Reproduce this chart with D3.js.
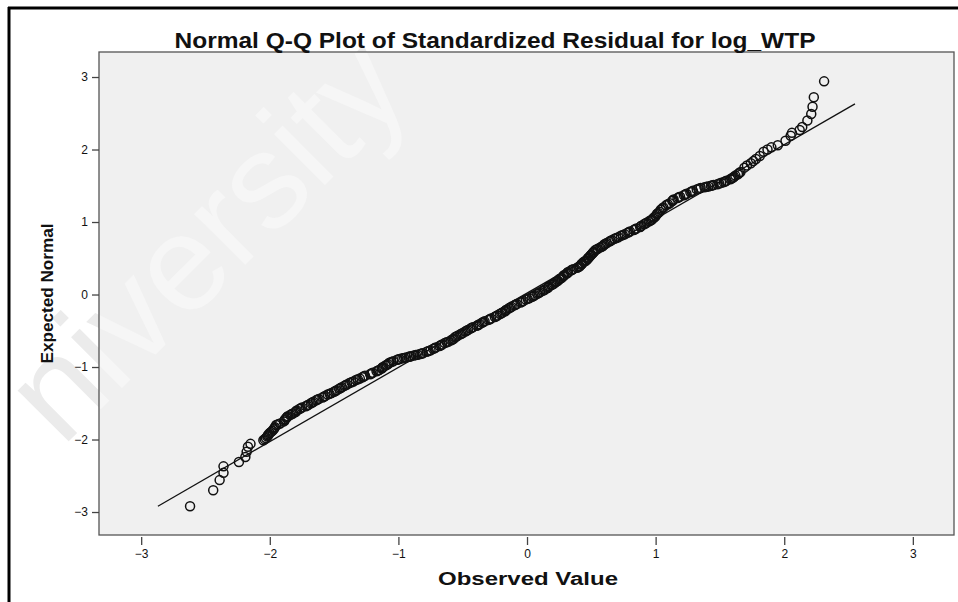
<!DOCTYPE html>
<html><head><meta charset="utf-8">
<script src="https://cdn.jsdelivr.net/npm/d3@7"></script>
<style>body{margin:0;background:#fff}svg{display:block}text{font-family:Arial,"Liberation Sans",sans-serif}</style>
</head><body>
<script>
const chartTitle = "Normal Q-Q Plot of Standardized Residual for log_WTP";
const xLabel = "Observed Value";
const yLabel = "Expected Normal";
const xTicks = [-3,-2,-1,0,1,2,3];
const yTicks = [-3,-2,-1,0,1,2,3];
const refLineObserved = [-2.87, 2.55];
const refLineExpected = [-2.92, 2.63];
const observed = [
-2.62,-2.44,-2.39,-2.36,-2.36,-2.24,-2.19,-2.18,-2.17,-2.15,
-2.05,-2.03,-2.02,-2.01,-2.00,-1.98,-1.97,-1.96,-1.95,-1.92,-1.89,-1.88,-1.87,-1.86,-1.84,-1.82,-1.80,-1.79,-1.77,-1.75,
-1.72,-1.70,-1.68,-1.66,-1.64,-1.62,-1.59,-1.57,-1.55,-1.52,-1.50,-1.48,-1.46,-1.44,-1.42,-1.40,-1.38,-1.35,-1.33,-1.30,
-1.28,-1.26,-1.22,-1.20,-1.17,-1.15,-1.13,-1.12,-1.10,-1.08,-1.07,-1.04,-1.01,-0.99,-0.97,-0.94,-0.92,-0.90,-0.88,-0.85,
-0.83,-0.81,-0.78,-0.75,-0.73,-0.71,-0.68,-0.66,-0.64,-0.61,-0.59,-0.57,-0.56,-0.54,-0.52,-0.50,-0.48,-0.46,-0.44,-0.42,
-0.39,-0.37,-0.35,-0.33,-0.30,-0.28,-0.25,-0.23,-0.21,-0.19,-0.17,-0.16,-0.14,-0.12,-0.10,-0.08,-0.05,-0.03,-0.01,0.02,
0.04,0.06,0.08,0.10,0.12,0.14,0.16,0.17,0.19,0.21,0.22,0.24,0.25,0.27,0.28,0.29,0.31,0.32,0.34,0.36,
0.39,0.41,0.42,0.43,0.44,0.46,0.47,0.48,0.49,0.50,0.51,0.52,0.53,0.55,0.57,0.59,0.60,0.62,0.64,0.66,
0.68,0.71,0.73,0.76,0.78,0.80,0.83,0.85,0.88,0.89,0.91,0.93,0.95,0.97,0.98,1.00,1.01,1.03,1.04,1.06,
1.08,1.11,1.13,1.14,1.17,1.19,1.22,1.24,1.27,1.29,1.32,1.35,1.38,1.41,1.43,1.45,1.48,1.51,1.53,1.55,
1.58,1.60,1.62,1.64,1.66,1.69,1.71,1.74,1.76,1.78,1.81,1.84,1.87,1.90,1.95,2.01,2.05,2.06,2.12,2.14,
2.18,2.21,2.22,2.23,2.31,
-2.04,-2.015,-1.99,-1.965,-1.935,-1.885,-1.865,-1.83,-1.795,-1.76,-1.71,-1.67,-1.63,-1.58,-1.535,-1.49,-1.45,-1.41,-1.365,-1.315,
-1.27,-1.21,-1.16,-1.125,-1.09,-1.055,-1.00,-0.955,-0.91,-0.865,-0.82,-0.765,-0.72,-0.67,-0.625,-0.58,-0.55,-0.51,-0.47,-0.43,
-0.38,-0.34,-0.29,-0.24,-0.20,-0.165,-0.13,-0.09,-0.04,0.005,0.05,0.09,0.13,0.165,0.20,0.23,0.26,0.285,0.315,0.35,
0.40,0.425,0.45,0.475,0.495,0.515,0.54,0.58,0.61,0.65,0.695,0.745,0.79,0.84,0.885,0.92,0.96,0.99,1.02,1.05,
1.095,1.135,1.18,1.23,1.28,1.335,1.395,1.44,1.495,1.54,1.59,1.61,1.65
];
const expected = [
-2.92,-2.70,-2.56,-2.46,-2.37,-2.31,-2.24,-2.17,-2.10,-2.06,
-2.01,-1.98,-1.96,-1.93,-1.91,-1.88,-1.86,-1.83,-1.80,-1.78,-1.75,-1.72,-1.70,-1.68,-1.66,-1.64,-1.62,-1.60,-1.58,-1.56,
-1.54,-1.52,-1.50,-1.48,-1.46,-1.44,-1.42,-1.40,-1.38,-1.36,-1.34,-1.32,-1.30,-1.28,-1.26,-1.24,-1.22,-1.20,-1.18,-1.16,
-1.14,-1.12,-1.10,-1.08,-1.06,-1.04,-1.02,-1.00,-0.98,-0.96,-0.94,-0.92,-0.90,-0.89,-0.88,-0.87,-0.86,-0.85,-0.84,-0.83,
-0.82,-0.81,-0.79,-0.77,-0.75,-0.73,-0.71,-0.69,-0.67,-0.65,-0.63,-0.61,-0.59,-0.57,-0.55,-0.53,-0.51,-0.49,-0.47,-0.45,
-0.43,-0.41,-0.39,-0.37,-0.35,-0.33,-0.31,-0.29,-0.27,-0.25,-0.23,-0.21,-0.19,-0.17,-0.15,-0.13,-0.11,-0.09,-0.07,-0.05,
-0.03,-0.01,0.01,0.03,0.05,0.07,0.09,0.11,0.13,0.15,0.17,0.19,0.21,0.23,0.25,0.27,0.29,0.31,0.33,0.35,
0.37,0.39,0.41,0.43,0.45,0.47,0.49,0.51,0.53,0.55,0.57,0.59,0.61,0.63,0.65,0.67,0.69,0.71,0.73,0.75,
0.77,0.79,0.81,0.83,0.85,0.87,0.89,0.91,0.93,0.95,0.97,0.99,1.01,1.03,1.05,1.08,1.11,1.14,1.17,1.20,
1.23,1.26,1.29,1.31,1.33,1.35,1.37,1.39,1.41,1.43,1.45,1.47,1.48,1.49,1.50,1.51,1.52,1.54,1.55,1.57,
1.59,1.61,1.64,1.66,1.69,1.75,1.78,1.81,1.84,1.87,1.91,1.97,2.00,2.03,2.06,2.12,2.19,2.23,2.27,2.31,
2.40,2.49,2.59,2.72,2.94,
-1.995,-1.945,-1.895,-1.845,-1.79,-1.735,-1.69,-1.65,-1.61,-1.57,-1.53,-1.49,-1.45,-1.41,-1.37,-1.33,-1.29,-1.25,-1.21,-1.17,
-1.13,-1.09,-1.05,-1.01,-0.97,-0.93,-0.895,-0.875,-0.855,-0.835,-0.815,-0.78,-0.74,-0.70,-0.66,-0.62,-0.58,-0.54,-0.50,-0.46,
-0.42,-0.38,-0.34,-0.30,-0.26,-0.22,-0.18,-0.14,-0.10,-0.06,-0.02,0.02,0.06,0.10,0.14,0.18,0.22,0.26,0.30,0.34,
0.38,0.42,0.46,0.50,0.54,0.58,0.62,0.66,0.70,0.74,0.78,0.82,0.86,0.90,0.94,0.98,1.02,1.065,1.125,1.185,
1.245,1.30,1.34,1.38,1.42,1.46,1.485,1.505,1.53,1.56,1.60,1.625,1.675
];
const watermark = "niversity";

const W = 958, H = 602;
const plot = {left: 99, right: 954, top: 52, bottom: 535};
const svg = d3.select("body").append("svg").attr("width", W).attr("height", H);
svg.append("rect").attr("width", W).attr("height", H).attr("fill", "#fff");

const x = d3.scaleLinear().domain([-3.328, 3.32]).range([plot.left, plot.right]);
const y = d3.scaleLinear().domain([-3.317, 3.345]).range([plot.bottom, plot.top]);

const wmT = "translate(62,448) rotate(-45)";
const wmSize = 136;
svg.append("text").attr("transform", wmT).attr("font-size", wmSize).attr("fill", "#ebebeb").text(watermark);

svg.append("rect").attr("x", plot.left).attr("y", plot.top)
  .attr("width", plot.right - plot.left).attr("height", plot.bottom - plot.top)
  .attr("fill", "#f0f0f0");
svg.append("clipPath").attr("id", "pc").append("rect")
  .attr("x", plot.left).attr("y", plot.top)
  .attr("width", plot.right - plot.left).attr("height", plot.bottom - plot.top);
svg.append("g").attr("clip-path", "url(#pc)").append("text").attr("transform", wmT)
  .attr("font-size", wmSize).attr("fill", "#f6f6f6").text(watermark);
svg.append("rect").attr("x", plot.left).attr("y", plot.top)
  .attr("width", plot.right - plot.left).attr("height", plot.bottom - plot.top)
  .attr("fill", "none").attr("stroke", "#555").attr("stroke-width", 1.3);

// outer frame
svg.append("line").attr("x1", 8).attr("x2", W).attr("y1", 8).attr("y2", 8).attr("stroke", "#000").attr("stroke-width", 3);
svg.append("line").attr("x1", 9).attr("x2", 9).attr("y1", 7).attr("y2", H).attr("stroke", "#000").attr("stroke-width", 3);

// reference line
svg.append("line")
  .attr("x1", x(refLineObserved[0])).attr("y1", y(refLineExpected[0]))
  .attr("x2", x(refLineObserved[1])).attr("y2", y(refLineExpected[1]))
  .attr("stroke", "#111").attr("stroke-width", 1.3);

// points
svg.append("g").selectAll("circle").data(observed.map((o, i) => [o, expected[i]]))
  .join("circle").attr("cx", d => x(d[0])).attr("cy", d => y(d[1])).attr("r", 4.5)
  .attr("fill", "none").attr("stroke", "#111").attr("stroke-width", 1.5);

// axes
const ax = svg.append("g").attr("transform", `translate(0,${plot.bottom + 2})`)
  .call(d3.axisBottom(x).tickValues(xTicks).tickSize(8).tickSizeOuter(0).tickFormat(d3.format("d")));
ax.select(".domain").remove();
const ay = svg.append("g").attr("transform", `translate(${plot.left},0)`)
  .call(d3.axisLeft(y).tickValues(yTicks).tickSize(7).tickSizeOuter(0).tickFormat(d3.format("d")));
ay.select(".domain").remove();
[ax, ay].forEach(g => {
  g.selectAll(".tick line").attr("stroke", "#444").attr("stroke-width", 1.3);
  g.selectAll(".tick text").attr("font-family", "Arial, 'Liberation Sans', sans-serif").attr("font-size", 12).attr("fill", "#111");
});
ay.selectAll(".tick text").attr("x", -11);
ax.selectAll(".tick text").attr("y", 12);

svg.append("text").attr("x", 495).attr("y", 48).attr("text-anchor", "middle")
  .attr("font-size", 22).attr("font-weight", "bold").attr("fill", "#111")
  .attr("textLength", 641).attr("lengthAdjust", "spacingAndGlyphs").text(chartTitle);
svg.append("text").attr("x", 528).attr("y", 585).attr("text-anchor", "middle")
  .attr("font-size", 18).attr("font-weight", "bold").attr("fill", "#111")
  .attr("textLength", 180).attr("lengthAdjust", "spacingAndGlyphs").text(xLabel);
svg.append("text").attr("transform", `translate(53,${(plot.top + plot.bottom) / 2}) rotate(-90)`)
  .attr("text-anchor", "middle").attr("font-size", 16).attr("font-weight", "bold").attr("fill", "#111")
  .attr("textLength", 140).attr("lengthAdjust", "spacingAndGlyphs").text(yLabel);
</script>
</body></html>
